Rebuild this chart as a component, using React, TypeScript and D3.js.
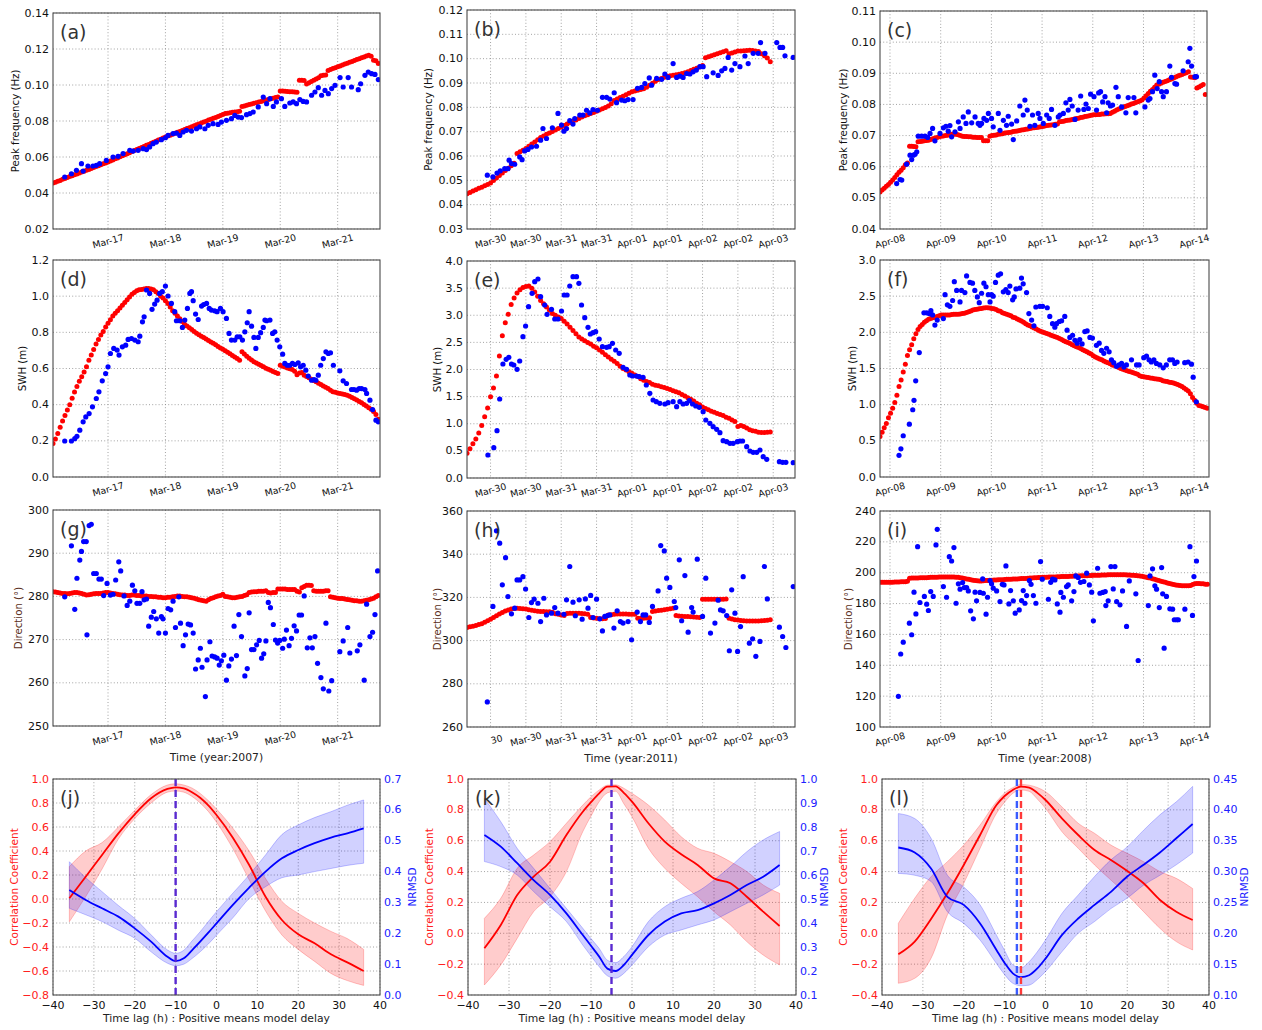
import React from "react";
import * as d3 from "d3";

const FONT = "'DejaVu Sans', Verdana, sans-serif";
const H = 3600000;

// ---------------- time axes ----------------
const col1Start = Date.UTC(2007, 2, 16, 1, 0);
const col2Start = Date.UTC(2011, 2, 29, 16, 0);
const col3Start = Date.UTC(2008, 3, 7, 19, 16);
const col1Ticks = ["2007-03-17", "2007-03-18", "2007-03-19", "2007-03-20", "2007-03-21"];
const col1TickLabels = ["Mar-17", "Mar-18", "Mar-19", "Mar-20", "Mar-21"];
const col2Ticks = ["2011-03-30T00:00Z", "2011-03-30T12:00Z", "2011-03-31T00:00Z", "2011-03-31T12:00Z", "2011-04-01T00:00Z", "2011-04-01T12:00Z", "2011-04-02T00:00Z", "2011-04-02T12:00Z", "2011-04-03T00:00Z"];
const col2TickLabels = ["Mar-30", "Mar-30", "Mar-31", "Mar-31", "Apr-01", "Apr-01", "Apr-02", "Apr-02", "Apr-03"];
const col2TickLabelsH = ["30", "Mar-30", "Mar-31", "Mar-31", "Apr-01", "Apr-01", "Apr-02", "Apr-02", "Apr-03"];
const col3Ticks = ["2008-04-08", "2008-04-09", "2008-04-10", "2008-04-11", "2008-04-12", "2008-04-13", "2008-04-14"];
const col3TickLabels = ["Apr-08", "Apr-09", "Apr-10", "Apr-11", "Apr-12", "Apr-13", "Apr-14"];

// ---------------- y ticks ----------------
const yTicksA = [0.02, 0.04, 0.06, 0.08, 0.1, 0.12, 0.14];
const yTicksB = [0.03, 0.04, 0.05, 0.06, 0.07, 0.08, 0.09, 0.1, 0.11, 0.12];
const yTicksC = [0.04, 0.05, 0.06, 0.07, 0.08, 0.09, 0.1, 0.11];
const yTicksD = [0, 0.2, 0.4, 0.6, 0.8, 1.0, 1.2];
const yTicksE = [0, 0.5, 1.0, 1.5, 2.0, 2.5, 3.0, 3.5, 4.0];
const yTicksF = [0, 0.5, 1.0, 1.5, 2.0, 2.5, 3.0];
const yTicksG = [250, 260, 270, 280, 290, 300];
const yTicksH = [260, 280, 300, 320, 340, 360];
const yTicksI = [100, 120, 140, 160, 180, 200, 220, 240];
const lagTicks = [-40, -30, -20, -10, 0, 10, 20, 30, 40];
const corrTicksJ = [-0.8, -0.6, -0.4, -0.2, 0, 0.2, 0.4, 0.6, 0.8, 1.0];
const corrTicksKL = [-0.4, -0.2, 0, 0.2, 0.4, 0.6, 0.8, 1.0];
const nrmsdTicksJ = [0, 0.1, 0.2, 0.3, 0.4, 0.5, 0.6, 0.7];
const nrmsdTicksK = [0.1, 0.2, 0.3, 0.4, 0.5, 0.6, 0.7, 0.8, 0.9, 1.0];
const nrmsdTicksL = [0.1, 0.15, 0.2, 0.25, 0.3, 0.35, 0.4, 0.45];

// ---------------- (a) peak frequency 2007: model hourly, obs [hour, value] ----------------
const modelA = [0.0455,0.0460,0.0465,0.0470,0.0476,0.0481,0.0486,0.0491,0.0496,0.0501,0.0506,0.0511,0.0516,0.0521,0.0526,0.0531,0.0536,0.0542,0.0547,0.0552,0.0557,0.0562,0.0567,0.0572,
0.0578,0.0584,0.0590,0.0595,0.0601,0.0607,0.0613,0.0618,0.0624,0.0630,0.0636,0.0642,0.0647,0.0653,0.0659,0.0665,0.0670,0.0676,0.0682,0.0688,0.0694,0.0699,0.0705,0.0711,
0.0716,0.0721,0.0727,0.0732,0.0737,0.0742,0.0747,0.0753,0.0758,0.0763,0.0768,0.0773,0.0779,0.0784,0.0789,0.0794,0.0799,0.0805,0.0810,0.0815,0.0820,0.0825,0.0831,0.0836,0.0841,
0.0843,0.0846,0.0848,0.0850,0.0852,0.0854,
0.0881,0.0884,0.0888,0.0891,0.0895,0.0898,0.0902,0.0905,0.0909,0.0912,0.0916,0.0919,0.0923,0.0926,0.0930,0.0933,
0.0967,0.0966,0.0965,0.0964,0.0963,0.0962,0.0961,0.0960,
0.1026,0.1027,0.1025,
0.1005,0.1012,0.1019,0.1026,0.1033,0.1040,
0.1052,0.1054,0.1055,
0.1081,0.1086,0.1091,0.1096,0.1101,0.1106,0.1111,0.1116,0.1121,0.1126,0.1131,0.1136,0.1141,0.1146,0.1151,0.1156,0.1161,0.1165,
0.1160,0.1137,0.1135,0.1120];
const obsA = [[4.9,0.0489],[7.7,0.0507],[9.8,0.0526],[11.9,0.0563],[12.6,0.0522],[14.6,0.0550],[16.7,0.0550],[18.1,0.0554],[19.5,0.0563],[22.3,0.0581],[25.1,0.0600],[27.2,0.0604],[29.3,0.0619],[32.1,0.0637],[33.5,0.0633],[35.6,0.0637],[37.7,0.0646],[39.1,0.0641],[40.4,0.0656],[41.8,0.0674],[43.2,0.0683],[45.3,0.0696],[47.0,0.0707],[48.1,0.0720],[50.2,0.0730],[51.6,0.0733],[53.0,0.0720],[54.4,0.0739],[55.8,0.0748],[57.9,0.0744],[60.0,0.0757],[61.4,0.0767],[63.5,0.0757],[64.9,0.0776],[66.9,0.0785],[69.0,0.0781],[70.4,0.0794],[72.5,0.0804],[74.6,0.0813],[76.0,0.0831],[77.4,0.0822],[78.8,0.0819],[80.9,0.0835],[82.3,0.0841],[83.7,0.0850],[85.8,0.0878],[87.9,0.0933],[89.3,0.0896],[90.7,0.0924],[92.1,0.0881],[93.4,0.0906],[95.5,0.0924],[96.9,0.0881],[99.0,0.0900],[100.4,0.0906],[101.8,0.0896],[103.2,0.0919],[104.6,0.0909],[106.0,0.0906],[108.1,0.0943],[109.5,0.0961],[110.9,0.0985],[112.3,0.0943],[113.7,0.0970],[115.1,0.0952],[116.5,0.0980],[117.9,0.0998],[120.0,0.1041],[121.3,0.0989],[123.4,0.1041],[124.8,0.0989],[127.6,0.0974],[128.6,0.1007],[130.4,0.1054],[131.8,0.1072],[133.2,0.1063],[134.6,0.1059],[136.0,0.1030]];

// ---------------- (b) peak frequency 2011 ----------------
const modelB = [0.0445,0.0450,0.0456,0.0461,0.0467,0.0472,0.0478,0.0483,0.0489,
0.0499,0.0510,0.0520,0.0530,0.0540,0.0550,0.0560,0.0570,
0.0610,0.0617,0.0624,0.0631,
0.0640,0.0649,0.0658,0.0667,0.0676,
0.0682,0.0689,0.0695,0.0701,
0.0707,0.0713,0.0719,0.0725,0.0731,0.0738,
0.0743,0.0748,0.0754,0.0760,0.0765,0.0770,0.0775,0.0779,0.0784,
0.0789,0.0794,0.0799,0.0805,0.0815,0.0828,
0.0834,0.0840,0.0846,0.0852,0.0858,0.0864,
0.0867,0.0870,0.0873,0.0876,
0.0883,0.0891,0.0899,0.0907,0.0914,0.0919,0.0924,0.0928,
0.0930,0.0932,0.0934,0.0936,0.0939,0.0942,0.0946,0.0951,0.0956,0.0961,0.0966,0.0972,
0.1004,0.1008,0.1012,0.1016,0.1020,0.1024,0.1028,0.1033,
0.1020,0.1023,0.1027,0.1031,
0.1032,0.1033,0.1034,0.1035,
0.1034,0.1032,0.1029,
0.1020,0.1012,0.1003,0.0987];
const obsB = [[6.9,0.0521],[8.8,0.0514],[10.2,0.0530],[11.3,0.0539],[12.8,0.0548],[13.9,0.0548],[14.3,0.0583],[15.1,0.0569],[16.2,0.0566],[17.9,0.0596],[18.7,0.0585],[19.6,0.0621],[20.7,0.0627],[21.9,0.0637],[23.6,0.0640],[25.0,0.0665],[25.8,0.0713],[27.0,0.0672],[29.0,0.0716],[30.9,0.0775],[32.1,0.0727],[32.9,0.0702],[33.8,0.0713],[34.9,0.0745],[36.0,0.0731],[36.6,0.0754],[38.3,0.0768],[39.4,0.0768],[40.6,0.0788],[41.7,0.0777],[42.8,0.0791],[44.3,0.0788],[46.0,0.0841],[47.4,0.0841],[48.5,0.0834],[50.0,0.0860],[50.8,0.0819],[52.5,0.0830],[53.6,0.0827],[54.7,0.0832],[56.4,0.0832],[57.9,0.0878],[59.3,0.0882],[60.4,0.0898],[61.9,0.0921],[62.7,0.0891],[64.4,0.0919],[66.1,0.0915],[67.2,0.0937],[68.3,0.0923],[70.0,0.0980],[71.2,0.0923],[72.3,0.0928],[73.4,0.0923],[74.6,0.0939],[75.7,0.0937],[76.8,0.0946],[77.9,0.0953],[79.1,0.0967],[80.2,0.0967],[81.4,0.0926],[83.6,0.0942],[85.3,0.0931],[86.5,0.0950],[87.6,0.0960],[88.7,0.1005],[89.9,0.0953],[91.0,0.0980],[92.7,0.0967],[94.4,0.1011],[95.5,0.0980],[97.2,0.1022],[98.9,0.1022],[99.7,0.1066],[101.2,0.1022],[105.2,0.1066],[106.3,0.1046],[107.2,0.1046],[108.0,0.1012],[110.8,0.1005]];

// ---------------- (c) peak frequency 2008 ----------------
const modelC = [0.0519,0.0525,0.0531,0.0537,0.0543,
0.0550,0.0557,0.0565,0.0574,0.0582,0.0589,0.0597,0.0606,0.0612,
0.0666,0.0666,0.0665,0.0664,
0.0680,0.0681,0.0682,0.0683,0.0684,0.0685,
0.0687,0.0690,0.0692,0.0694,0.0696,
0.0698,0.0699,0.0700,0.0701,0.0703,0.0704,
0.0704,0.0704,0.0703,0.0700,0.0698,
0.0697,0.0697,0.0696,0.0696,0.0695,0.0695,0.0694,0.0694,0.0694,
0.0683,0.0683,0.0683,
0.0698,0.0700,0.0701,0.0702,0.0704,0.0705,0.0706,0.0708,0.0709,
0.0710,0.0711,0.0713,0.0714,0.0715,0.0716,0.0718,0.0719,0.0720,0.0721,0.0723,
0.0724,0.0725,0.0726,0.0727,0.0728,0.0729,0.0731,0.0732,0.0733,0.0734,0.0735,0.0736,0.0737,
0.0744,0.0745,0.0746,0.0748,0.0749,0.0750,0.0752,0.0753,0.0755,
0.0756,0.0758,0.0759,0.0761,0.0762,0.0764,0.0765,0.0767,
0.0767,0.0768,0.0768,0.0769,0.0769,0.0770,0.0770,0.0771,
0.0775,0.0778,0.0782,0.0785,0.0788,
0.0791,0.0793,0.0796,0.0798,0.0801,0.0803,0.0806,0.0809,0.0811,0.0814,
0.0821,0.0828,0.0835,0.0842,0.0848,0.0855,0.0862,
0.0865,0.0868,0.0871,0.0874,0.0876,0.0879,0.0882,0.0885,0.0888,0.0891,0.0894,0.0896,0.0899,0.0902,0.0905,
0.0888,0.0887,0.0886,
0.0853,0.0856,0.0860,0.0864,0.0832];
const obsC = [[7.9,0.0546],[9.5,0.0559],[10.3,0.0557],[12.6,0.0608],[14.2,0.0637],[15.0,0.0623],[15.8,0.0637],[16.6,0.0640],[17.4,0.0648],[18.1,0.0698],[19.7,0.0698],[21.3,0.0698],[22.6,0.0694],[23.7,0.0707],[24.9,0.0723],[26.0,0.0683],[28.4,0.0707],[30.0,0.0725],[31.2,0.0730],[32.3,0.0714],[33.1,0.0732],[33.9,0.0696],[35.5,0.0712],[37.1,0.0744],[37.9,0.0723],[39.4,0.0760],[40.7,0.0739],[41.8,0.0776],[43.4,0.0741],[45.0,0.0760],[46.5,0.0739],[47.3,0.0733],[48.1,0.0739],[49.2,0.0755],[50.5,0.0749],[51.3,0.0771],[52.8,0.0755],[53.6,0.0728],[56.0,0.0771],[56.8,0.0717],[58.4,0.0749],[59.9,0.0733],[60.7,0.0762],[62.3,0.0737],[63.1,0.0687],[64.7,0.0747],[66.2,0.0795],[67.8,0.0766],[68.6,0.0814],[69.7,0.0782],[71.0,0.0730],[72.2,0.0766],[73.3,0.0733],[74.9,0.0771],[75.7,0.0755],[77.3,0.0739],[78.9,0.0766],[80.1,0.0755],[81.2,0.0784],[82.8,0.0733],[84.4,0.0760],[85.2,0.0766],[86.8,0.0771],[88.0,0.0805],[89.1,0.0782],[89.9,0.0816],[91.0,0.0795],[92.3,0.0752],[93.8,0.0782],[95.0,0.0827],[96.5,0.0784],[97.5,0.0801],[98.6,0.0787],[99.7,0.0833],[101.3,0.0825],[102.5,0.0782],[103.5,0.0837],[104.4,0.0841],[105.4,0.0808],[106.5,0.0825],[107.3,0.0773],[108.0,0.0805],[109.1,0.0795],[110.1,0.0798],[111.7,0.0855],[112.8,0.0825],[114.4,0.0792],[116.4,0.0773],[117.5,0.0822],[120.2,0.0822],[121.1,0.0773],[125.4,0.0792],[127.0,0.0814],[127.8,0.0819],[129.0,0.0841],[130.1,0.0894],[131.2,0.0851],[132.2,0.0873],[133.3,0.0841],[134.1,0.0825],[135.6,0.0841],[137.2,0.0923],[138.0,0.0887],[139.6,0.0867],[140.4,0.0865],[143.5,0.0908],[145.9,0.0937],[146.7,0.0980],[147.5,0.0923],[149.1,0.0889],[149.8,0.0889]];

// ---------------- (d) SWH 2007 ----------------
const modelD = [0.185,0.21,0.24,0.275,0.31,0.34,0.37,0.40,0.435,0.47,0.50,
0.53,0.555,0.58,0.61,0.645,0.675,0.705,0.735,0.76,0.785,
0.805,0.83,0.85,0.87,0.89,0.905,0.92,0.935,0.95,0.965,
0.98,0.995,1.01,1.02,1.03,1.035,1.037,1.04,1.042,1.043,
1.04,1.035,1.025,1.015,1.00,0.99,0.975,0.96,0.94,0.92,
0.905,0.89,0.875,0.86,0.845,0.835,0.825,0.815,0.805,0.795,
0.787,0.779,0.771,0.763,0.755,0.747,0.739,0.731,0.722,0.714,
0.706,0.698,0.690,0.681,0.672,0.663,0.655,0.646,
0.692,0.680,0.668,0.657,0.647,0.637,
0.630,0.623,0.616,0.609,0.602,0.596,0.590,0.584,0.578,0.572,
0.618,0.613,0.608,0.603,0.598,0.594,
0.585,0.565,0.575,0.578,0.563,0.556,0.549,0.541,0.534,0.527,
0.519,0.511,0.503,0.496,0.489,0.480,0.471,
0.468,0.465,0.462,0.459,0.456,0.452,0.446,0.440,0.433,0.426,0.418,
0.410,0.401,0.392,0.383,0.374,0.362,0.345,0.320];
const obsD = [[4.9,0.199],[7.7,0.199],[9.1,0.212],[10.0,0.225],[11.2,0.259],[12.6,0.305],[13.7,0.332],[15.1,0.351],[16.5,0.388],[18.1,0.434],[19.2,0.471],[20.6,0.532],[22.0,0.572],[23.0,0.609],[24.0,0.683],[25.4,0.711],[26.8,0.702],[27.6,0.674],[29.0,0.720],[30.4,0.729],[31.4,0.761],[32.8,0.766],[34.2,0.757],[35.6,0.748],[36.3,0.779],[37.4,0.858],[38.1,0.886],[39.1,1.034],[40.4,1.015],[41.4,0.927],[42.5,0.956],[43.5,0.978],[44.6,1.015],[45.7,1.025],[47.0,1.056],[48.1,1.001],[49.5,0.960],[50.9,0.914],[51.6,0.864],[53.0,0.864],[54.1,0.827],[55.1,0.868],[56.2,0.932],[57.2,1.015],[57.9,1.025],[58.6,0.975],[59.6,0.901],[60.7,0.871],[62.1,0.945],[63.0,0.954],[64.2,0.960],[65.3,0.932],[66.2,0.923],[67.6,0.919],[68.6,0.914],[70.0,0.932],[71.1,0.914],[72.5,0.877],[73.6,0.794],[74.6,0.757],[76.0,0.757],[77.0,0.775],[78.1,0.775],[79.2,0.757],[80.2,0.803],[81.2,0.853],[82.0,0.914],[83.0,0.834],[84.0,0.772],[84.8,0.711],[85.8,0.772],[86.8,0.798],[87.9,0.827],[88.6,0.868],[89.3,0.864],[90.7,0.868],[91.8,0.794],[92.7,0.803],[93.7,0.757],[94.8,0.720],[96.0,0.679],[96.9,0.628],[97.9,0.618],[99.0,0.618],[100.1,0.628],[101.1,0.622],[102.5,0.631],[103.5,0.609],[104.6,0.618],[105.7,0.591],[106.7,0.558],[108.1,0.535],[109.1,0.539],[109.9,0.535],[110.9,0.563],[111.9,0.618],[113.0,0.655],[114.1,0.692],[115.1,0.683],[116.0,0.687],[117.2,0.618],[119.9,0.587],[121.3,0.532],[122.7,0.517],[124.8,0.484],[125.8,0.484],[126.9,0.480],[128.0,0.489],[129.0,0.489],[130.4,0.484],[131.1,0.462],[132.5,0.425],[133.6,0.373],[135.0,0.314],[136.0,0.305]];

// ---------------- (e) SWH 2011 ----------------
const modelE = [0.455,0.54,0.63,0.72,0.83,0.97,1.13,1.29,1.50,1.66,1.88,2.25,2.62,2.86,3.02,3.20,3.32,3.41,3.47,3.51,
3.53,3.54,3.50,3.43,3.35,3.27,3.21,3.15,3.09,3.03,3.00,2.97,2.94,2.89,2.84,2.78,2.72,2.66,2.60,2.56,
2.53,2.50,2.47,2.43,2.40,2.36,2.32,2.27,2.23,2.19,2.15,2.11,2.06,2.02,1.99,1.96,1.93,1.90,1.87,1.83,
1.80,1.78,1.76,1.73,1.71,1.70,1.68,1.67,1.65,1.63,1.61,1.59,1.57,1.54,1.51,1.48,1.45,1.42,1.38,1.35,
1.31,1.28,1.26,1.23,1.21,1.19,1.17,1.15,1.12,1.10,1.07,1.04,0.95,0.97,0.95,0.92,0.89,0.87,0.86,0.845,
0.84,0.84,0.845,0.85];
const obsE = [[7.1,0.424],[9.1,0.559],[10.2,0.873],[11.1,1.456],[12.2,2.101],[13.3,2.187],[14.2,2.224],[15.1,2.101],[15.9,2.083],[17.0,2.003],[17.9,2.157],[19.0,2.605],[19.9,2.802],[20.9,3.158],[22.1,3.404],[23.0,3.619],[24.1,3.668],[25.0,3.343],[26.4,3.189],[27.2,3.017],[28.7,3.109],[29.8,2.931],[30.9,2.931],[32.1,3.078],[33.0,3.373],[34.0,3.373],[34.9,3.539],[36.0,3.711],[37.2,3.711],[38.0,3.588],[38.9,3.189],[40.0,2.955],[41.1,2.777],[41.9,2.654],[42.8,2.679],[43.7,2.697],[44.9,2.562],[46.0,2.421],[47.4,2.409],[48.3,2.421],[49.4,2.482],[50.5,2.359],[51.7,2.298],[53.0,2.040],[54.2,2.003],[55.3,1.899],[56.2,1.880],[57.6,1.880],[58.5,1.868],[59.8,1.856],[60.9,1.714],[62.1,1.561],[63.2,1.438],[64.3,1.407],[65.5,1.376],[67.2,1.364],[68.3,1.389],[70.0,1.407],[71.2,1.315],[72.3,1.407],[73.4,1.364],[74.6,1.376],[75.5,1.426],[76.6,1.364],[77.7,1.327],[78.9,1.303],[80.2,1.223],[81.1,1.069],[82.5,1.008],[83.6,0.946],[84.8,0.897],[85.9,0.836],[87.0,0.688],[88.2,0.670],[89.3,0.639],[90.4,0.639],[91.8,0.670],[92.7,0.682],[93.6,0.682],[95.0,0.578],[96.1,0.498],[97.2,0.473],[98.4,0.473],[99.5,0.516],[100.6,0.393],[101.8,0.344],[106.1,0.301],[107.2,0.289],[108.3,0.289],[110.8,0.283]];

// ---------------- (f) SWH 2008 ----------------
const modelF = [0.56,0.62,0.68,0.74,0.82,0.88,0.95,1.03,1.13,1.25,1.34,1.45,1.56,1.68,1.76,1.83,1.91,1.98,2.04,2.08,
2.11,2.14,2.16,2.18,2.19,2.20,2.21,2.22,2.23,2.24,2.24,2.24,2.24,2.24,2.245,2.25,2.25,2.25,2.255,2.26,
2.265,2.275,2.285,2.295,2.31,2.315,2.32,2.325,2.33,2.335,2.34,2.34,2.335,2.33,2.325,2.315,2.30,2.29,2.27,2.26,
2.25,2.24,2.23,2.21,2.20,2.185,2.17,2.155,2.14,2.12,2.10,2.09,2.075,2.06,2.045,2.03,2.015,2.005,1.995,1.985,
1.975,1.96,1.95,1.94,1.93,1.915,1.90,1.885,1.87,1.86,1.845,1.83,1.815,1.80,1.79,1.775,1.76,1.745,1.73,1.715,
1.70,1.675,1.66,1.645,1.63,1.62,1.605,1.59,1.58,1.565,1.55,1.54,1.53,1.515,1.50,1.49,1.48,1.47,1.46,1.45,
1.44,1.43,1.42,1.40,1.39,1.385,1.38,1.375,1.37,1.365,1.36,1.355,1.35,1.345,1.33,1.325,1.32,1.31,1.305,1.30,
1.29,1.28,1.265,1.25,1.23,1.21,1.19,1.15,1.10,1.06,1.02,0.99,0.98,0.97,0.96,0.95];
const obsF = [[9.0,0.30],[9.9,0.39],[11.0,0.57],[13.9,0.73],[15.5,0.93],[16.1,1.06],[16.9,1.33],[18.6,1.72],[20.8,2.27],[22.1,2.27],[23.3,2.26],[24.1,2.30],[24.9,2.24],[26.0,2.10],[27.1,2.17],[30.0,2.19],[30.8,2.52],[31.9,2.38],[33.1,2.36],[34.4,2.44],[35.2,2.70],[36.3,2.58],[37.9,2.42],[38.6,2.58],[40.2,2.55],[41.0,2.78],[42.6,2.69],[43.8,2.68],[44.9,2.58],[46.1,2.49],[47.0,2.41],[48.1,2.54],[49.2,2.68],[50.2,2.63],[51.3,2.52],[52.1,2.42],[52.8,2.52],[53.6,2.50],[54.7,2.69],[56.0,2.79],[57.1,2.81],[58.4,2.56],[59.6,2.59],[60.7,2.55],[61.5,2.64],[62.8,2.45],[63.6,2.49],[64.4,2.60],[66.2,2.61],[67.0,2.75],[67.8,2.67],[69.4,2.55],[70.5,2.26],[71.8,2.17],[72.9,2.09],[73.8,2.35],[75.7,2.36],[77.0,2.36],[79.2,2.34],[80.4,2.22],[81.7,2.12],[82.8,2.07],[83.6,2.12],[84.9,2.15],[86.0,2.16],[87.5,2.22],[88.6,2.03],[89.9,1.93],[91.2,1.96],[92.3,1.89],[93.4,1.85],[94.6,1.90],[95.7,1.84],[97.0,2.01],[98.1,2.02],[99.4,1.93],[100.6,1.92],[102.5,1.82],[103.8,1.85],[104.9,1.75],[106.0,1.71],[107.3,1.78],[108.5,1.73],[109.6,1.62],[110.7,1.58],[112.0,1.53],[113.2,1.55],[114.4,1.57],[115.5,1.52],[116.7,1.55],[119.1,1.62],[121.5,1.55],[122.7,1.55],[124.9,1.65],[126.2,1.67],[127.4,1.62],[128.5,1.59],[129.7,1.62],[130.9,1.57],[132.5,1.55],[134.1,1.51],[135.6,1.55],[137.2,1.62],[138.5,1.62],[139.6,1.57],[140.7,1.59],[144.3,1.58],[145.9,1.59],[147.5,1.56],[148.3,1.38],[149.8,1.04]];

// ---------------- (g) direction 2007 ----------------
const modelG = [281.1,281.0,280.9,280.8,280.7,280.7,280.6,280.7,280.8,280.9,280.9,280.8,
280.7,280.5,280.3,280.4,280.5,280.6,280.7,280.7,280.7,280.8,280.9,280.9,
280.8,280.7,280.6,280.5,280.4,280.3,280.3,280.2,280.2,280.3,280.3,280.2,
280.2,280.1,280.1,280.1,280.0,280.0,279.9,279.9,279.8,279.8,279.7,279.7,
279.8,279.8,279.9,280.0,280.1,280.1,280.0,279.9,279.9,279.8,279.7,279.6,
279.4,279.2,279.1,279.0,278.9,279.2,279.5,279.7,279.9,280.1,280.2,280.5,
280.0,279.9,279.8,279.7,279.7,279.8,279.9,280.0,280.2,280.4,280.9,281.0,
281.1,281.1,281.2,281.2,281.2,281.3,280.9,280.8,280.9,280.9,281.7,281.7,
281.7,281.7,281.6,281.6,281.6,281.6,281.2,281.0,282.0,282.3,282.6,282.6,
282.5,281.3,281.2,281.2,281.2,281.2,281.3,281.3,279.9,279.8,279.7,279.6,
279.5,279.5,279.4,279.3,279.2,279.1,279.0,279.0,278.9,278.9,279.0,279.1,
279.2,279.4,279.6,279.9,280.2];
const obsG = [[4.9,279.9],[7.7,291.7],[9.1,277.0],[10.0,284.2],[11.2,288.4],[11.9,290.4],[12.8,292.7],[13.9,292.7],[14.2,271.1],[15.1,296.4],[16.0,296.7],[17.0,285.3],[18.1,285.3],[19.2,284.0],[20.2,284.0],[21.2,280.2],[22.6,283.0],[24.0,280.3],[25.1,280.5],[26.2,283.8],[27.5,288.0],[28.3,285.9],[29.7,280.1],[31.0,277.9],[32.1,278.9],[33.2,282.6],[34.2,281.3],[35.1,278.4],[36.3,278.4],[37.2,281.1],[38.1,279.2],[39.1,279.4],[40.0,273.1],[41.1,275.2],[42.1,276.5],[43.2,274.8],[44.2,271.5],[45.3,275.3],[46.0,274.8],[47.0,271.5],[48.1,277.2],[49.2,276.9],[50.2,278.9],[51.2,272.8],[52.6,279.9],[53.3,273.8],[54.4,268.6],[55.4,271.1],[56.5,273.6],[57.5,273.4],[58.6,271.5],[59.6,263.2],[60.7,265.3],[61.6,268.0],[62.3,263.6],[63.7,256.8],[64.4,265.3],[65.6,269.5],[66.5,266.2],[67.6,266.0],[68.6,265.7],[69.5,264.1],[70.4,265.1],[71.4,266.4],[72.5,260.6],[73.5,263.9],[74.6,265.5],[75.7,273.1],[76.7,266.3],[77.7,275.8],[78.8,270.7],[80.2,261.6],[81.2,263.3],[82.0,276.2],[83.0,267.7],[84.0,267.7],[85.1,268.8],[86.2,269.8],[87.2,265.7],[88.1,266.7],[89.0,269.7],[90.0,278.6],[90.9,277.4],[92.1,273.5],[93.0,269.9],[93.9,269.2],[94.8,269.8],[96.0,268.0],[96.7,270.1],[97.6,272.2],[98.7,268.6],[99.7,270.3],[100.8,273.2],[101.8,272.0],[102.9,275.7],[103.9,275.7],[105.0,280.1],[106.3,268.1],[107.4,270.4],[108.4,268.1],[109.5,270.7],[110.6,264.5],[112.0,261.2],[113.0,258.6],[114.1,273.8],[115.3,258.1],[116.5,260.5],[119.9,267.2],[121.3,269.7],[123.2,272.8],[124.1,266.9],[127.2,267.4],[128.3,268.8],[130.1,260.6],[131.1,278.2],[132.5,270.7],[133.6,271.7],[134.6,275.8],[135.7,285.9]];

// ---------------- (h) direction 2011 ----------------
const modelH = [306.1,306.4,306.7,307.0,307.4,307.8,308.5,309.2,309.9,310.7,311.5,312.3,
313.0,313.7,314.2,314.6,314.9,315.0,314.9,314.8,314.6,314.3,314.0,313.8,
313.6,313.5,313.5,313.4,313.3,313.1,312.4,312.2,311.8,311.6,312.6,312.7,
312.7,312.7,312.7,312.6,312.4,312.2,310.7,310.5,310.3,310.1,310.1,310.2,
311.9,312.0,312.2,312.3,312.3,312.3,312.3,312.2,312.2,312.2,
310.4,310.4,310.4,310.5,310.6,
313.5,313.7,313.9,314.1,314.3,314.5,314.8,315.0,
311.6,311.4,311.3,311.2,311.1,311.0,310.9,310.8,310.7,
319.2,319.2,319.2,319.2,319.2,319.2,319.2,319.2,319.3,
310.4,310.0,309.7,309.5,309.3,309.2,309.1,309.1,
309.1,309.1,309.1,309.2,309.3,309.4,309.6];
const obsH = [[6.9,271.6],[8.8,315.8],[10.0,350.8],[11.1,345.1],[12.0,325.8],[13.1,338.4],[13.9,320.4],[15.1,312.4],[16.2,315.0],[17.0,328.1],[17.9,328.1],[19.0,329.6],[19.9,323.9],[21.0,310.7],[21.9,317.6],[22.8,319.2],[24.1,317.3],[25.0,308.8],[26.1,319.6],[27.0,311.9],[28.7,312.7],[29.8,315.3],[30.9,312.7],[32.9,312.2],[33.8,318.9],[34.9,334.3],[36.0,317.8],[36.8,311.5],[38.1,318.9],[39.1,309.9],[40.2,319.3],[41.1,315.0],[42.0,320.9],[42.8,310.7],[44.0,319.2],[45.1,310.1],[46.0,304.5],[46.8,311.2],[47.7,311.6],[48.5,311.9],[49.9,305.8],[51.0,313.8],[52.1,308.8],[53.0,308.1],[54.7,308.8],[55.9,300.4],[57.8,313.2],[58.9,308.8],[59.8,311.9],[60.7,311.9],[61.9,308.4],[63.0,315.8],[64.9,323.0],[65.8,344.0],[67.0,341.5],[67.8,328.9],[68.9,324.6],[70.4,318.1],[70.9,315.3],[72.1,337.4],[72.9,309.2],[74.0,330.1],[75.1,303.9],[76.3,315.3],[76.8,313.2],[78.2,337.7],[80.0,311.2],[81.1,328.9],[82.7,303.5],[84.2,308.1],[85.3,318.7],[86.1,314.2],[87.0,313.8],[88.2,311.6],[89.1,295.3],[89.9,323.5],[91.0,312.7],[91.9,295.0],[92.9,306.5],[93.8,329.6],[95.9,298.8],[97.0,300.8],[98.1,292.7],[99.5,299.6],[101.0,334.3],[102.0,319.3],[106.1,306.2],[107.2,301.9],[108.3,296.8],[110.8,325.0]];

// ---------------- (i) direction 2008 ----------------
const modelI = [193.8,193.8,193.8,193.8,193.9,193.9,193.9,194.0,194.0,194.0,194.1,194.1,194.2,194.4,
196.4,196.5,196.5,196.6,196.6,196.7,196.7,196.8,196.8,
196.9,197.0,197.0,197.1,197.1,197.2,197.2,197.3,197.3,197.3,197.3,197.2,197.2,197.1,197.0,
196.8,196.6,196.3,196.0,195.7,195.4,195.1,194.9,194.8,194.7,194.7,194.8,194.9,
195.0,195.1,195.1,195.2,195.3,195.4,195.5,195.5,195.6,195.7,195.7,195.8,
195.9,195.9,196.0,196.1,196.2,196.3,196.3,196.4,196.5,196.6,196.7,196.8,196.9,196.9,197.0,197.1,
197.1,197.2,197.2,197.3,197.3,197.4,197.4,197.5,197.5,197.6,197.6,197.7,197.7,197.8,197.8,197.9,
198.0,198.0,198.1,198.1,198.2,198.2,198.3,198.3,198.4,198.4,198.5,198.5,198.5,198.6,198.6,198.6,198.6,198.6,198.6,198.6,198.6,198.6,198.5,198.5,
198.4,198.3,198.2,198.1,197.9,197.7,197.4,197.1,196.8,196.5,
196.1,195.7,195.3,194.9,194.5,194.2,193.8,193.4,193.0,192.7,192.4,192.1,
191.9,191.7,191.6,191.5,191.5,191.5,191.7,
192.4,192.8,193.0,193.0,192.9,192.8,192.6,192.5];
const obsI = [[8.7,119.9],[9.8,147.3],[11.0,155.0],[13.9,167.3],[15.0,159.8],[16.1,187.4],[17.0,173.3],[17.8,216.9],[18.9,180.7],[21.0,184.6],[22.1,179.6],[22.9,175.5],[24.0,187.8],[25.2,184.6],[26.5,218.0],[27.1,228.1],[30.0,191.0],[31.5,184.1],[32.8,210.4],[33.9,207.6],[35.0,216.3],[36.0,180.2],[37.1,192.8],[37.9,189.3],[39.1,193.6],[39.9,190.4],[41.0,190.4],[41.8,188.2],[42.9,175.3],[44.2,170.1],[45.0,187.4],[45.7,181.8],[47.3,187.2],[48.6,196.0],[48.9,186.7],[50.2,173.1],[50.9,184.1],[52.1,194.9],[52.8,192.8],[53.6,190.0],[55.2,188.2],[56.8,181.3],[57.9,192.5],[58.7,192.1],[59.6,204.4],[61.0,179.8],[61.8,188.4],[63.1,181.8],[64.0,173.8],[65.9,175.9],[67.0,182.0],[67.8,188.4],[68.6,180.2],[69.4,185.2],[70.7,194.9],[71.5,192.5],[72.6,185.2],[73.8,180.2],[76.0,207.2],[76.8,195.8],[79.7,182.8],[80.8,193.8],[81.7,195.8],[82.8,195.3],[83.9,179.8],[85.2,174.4],[85.6,187.2],[86.8,184.1],[88.3,191.0],[89.1,192.1],[90.7,181.8],[91.8,187.8],[92.7,197.9],[93.8,196.9],[94.9,193.8],[96.5,194.3],[97.8,199.7],[99.1,192.1],[100.2,187.4],[101.0,168.8],[103.0,202.9],[104.1,186.7],[105.4,187.2],[106.6,187.8],[106.9,178.7],[108.0,181.8],[109.3,204.0],[110.4,189.5],[111.2,204.0],[112.0,181.3],[113.6,179.2],[114.8,188.2],[116.7,165.2],[118.0,194.7],[121.1,186.3],[122.2,143.1],[127.0,178.7],[127.8,197.9],[129.0,202.5],[130.1,191.5],[130.9,189.3],[132.2,177.4],[133.3,203.3],[133.8,186.3],[134.5,151.1],[135.6,184.6],[137.2,176.6],[138.5,176.4],[139.3,169.5],[140.4,169.5],[141.2,169.5],[144.3,176.4],[146.7,216.9],[147.9,172.3],[148.6,197.5],[149.8,207.6]];

// ---------------- (j)(k)(l) lag analysis ----------------
const lags = [-36, -32, -28, -24, -20, -16, -12, -10, -8, -6, -4, -2, 0, 4, 8, 12, 16, 20, 24, 28, 32, 36];
const corrJ = [0.006,0.186,0.367,0.547,0.706,0.839,0.917,0.931,0.922,0.89,0.844,0.78,0.70,0.511,0.283,0.019,-0.175,-0.294,-0.369,-0.461,-0.528,-0.60];
const corrJHi = [0.27,0.40,0.47,0.60,0.74,0.87,0.95,0.96,0.95,0.925,0.88,0.82,0.75,0.59,0.40,0.17,-0.02,-0.12,-0.20,-0.27,-0.33,-0.42];
const corrJLo = [-0.19,0.02,0.25,0.50,0.67,0.80,0.89,0.90,0.89,0.855,0.80,0.73,0.64,0.42,0.16,-0.10,-0.30,-0.42,-0.52,-0.62,-0.68,-0.72];
const nrmsdJ = [0.34,0.308,0.281,0.254,0.216,0.173,0.124,0.110,0.119,0.145,0.173,0.202,0.232,0.292,0.348,0.40,0.443,0.47,0.492,0.51,0.524,0.54];
const nrmsdJHi = [0.432,0.38,0.335,0.29,0.248,0.195,0.146,0.135,0.145,0.175,0.205,0.238,0.27,0.33,0.389,0.454,0.52,0.551,0.575,0.594,0.615,0.632];
const nrmsdJLo = [0.281,0.26,0.238,0.21,0.184,0.14,0.103,0.095,0.10,0.118,0.14,0.165,0.194,0.25,0.313,0.351,0.38,0.389,0.40,0.41,0.42,0.427];
const corrK = [-0.097,0.054,0.248,0.367,0.464,0.637,0.788,0.85,0.907,0.95,0.952,0.91,0.853,0.713,0.594,0.512,0.443,0.356,0.324,0.237,0.14,0.047];
const corrKHi = [0.097,0.227,0.421,0.507,0.594,0.713,0.831,0.885,0.929,0.96,0.962,0.94,0.907,0.831,0.734,0.626,0.551,0.518,0.464,0.40,0.313,0.259];
const corrKLo = [-0.335,-0.205,-0.033,0.14,0.237,0.40,0.659,0.76,0.853,0.91,0.92,0.84,0.756,0.551,0.421,0.324,0.237,0.14,0.054,-0.054,-0.141,-0.205];
const nrmsdK = [0.767,0.718,0.649,0.579,0.517,0.44,0.35,0.305,0.26,0.21,0.20,0.225,0.267,0.35,0.406,0.44,0.454,0.482,0.517,0.558,0.593,0.642];
const nrmsdKHi = [0.919,0.822,0.711,0.628,0.544,0.461,0.378,0.335,0.294,0.245,0.235,0.26,0.301,0.406,0.468,0.503,0.531,0.579,0.635,0.697,0.746,0.781];
const nrmsdKLo = [0.656,0.635,0.60,0.531,0.468,0.406,0.308,0.262,0.218,0.18,0.17,0.19,0.225,0.301,0.35,0.371,0.392,0.413,0.447,0.482,0.517,0.558];
const corrL = [-0.136,-0.054,0.093,0.259,0.443,0.637,0.831,0.89,0.929,0.95,0.944,0.91,0.864,0.745,0.637,0.54,0.475,0.404,0.324,0.216,0.14,0.086];
const corrLHi = [0.065,0.227,0.367,0.464,0.572,0.702,0.853,0.91,0.944,0.965,0.96,0.945,0.918,0.82,0.713,0.648,0.572,0.518,0.464,0.40,0.356,0.29];
const corrLLo = [-0.324,-0.292,-0.162,0.119,0.324,0.551,0.777,0.85,0.907,0.929,0.92,0.87,0.81,0.659,0.551,0.443,0.345,0.248,0.14,0.032,-0.054,-0.108];
const nrmsdL = [0.339,0.331,0.305,0.259,0.246,0.216,0.173,0.152,0.135,0.129,0.132,0.143,0.159,0.197,0.224,0.246,0.267,0.292,0.311,0.331,0.354,0.377];
const nrmsdLHi = [0.394,0.386,0.354,0.294,0.275,0.246,0.197,0.172,0.149,0.144,0.154,0.17,0.189,0.232,0.262,0.292,0.319,0.34,0.367,0.392,0.413,0.438];
const nrmsdLLo = [0.297,0.294,0.284,0.235,0.216,0.189,0.151,0.133,0.119,0.115,0.116,0.125,0.138,0.17,0.20,0.219,0.24,0.257,0.278,0.294,0.311,0.33];
const peakLagCorr = [-10, -5, -6];
const peakLagNrmsd = [-10, -5, -7];

// ---------------- components ----------------
const GRID = { stroke: "#8c8c8c", strokeWidth: 0.8, strokeDasharray: "1,2.2" };
const FRAME = "#4a4a4a";

function Scatter(p: any) {
  const [l, t, r, b] = p.box;
  const x = d3.scaleUtc().domain([new Date(p.start), new Date(p.start + p.hMax * H)]).range([l, r]);
  const y = d3.scaleLinear().domain(p.yDomain).range([b, t]);
  const fmt = d3.format(`.${p.yDigits}f`);
  const tickDates = p.ticks.map((s: string) => new Date(s));
  return (
    <g fontFamily={FONT}>
      <defs>
        <clipPath id={p.id}><rect x={l} y={t} width={r - l} height={b - t} /></clipPath>
      </defs>
      {p.yTicks.map((v: number) => (
        <line key={"gy" + v} x1={l} x2={r} y1={y(v)} y2={y(v)} {...GRID} />
      ))}
      {tickDates.map((d: Date, i: number) => (
        <line key={"gx" + i} x1={x(d)} x2={x(d)} y1={t} y2={b} {...GRID} />
      ))}
      <g clipPath={`url(#${p.id})`}>
        {p.model.map((v: number | null, i: number) =>
          v == null ? null : (
            <circle key={"m" + i} cx={x(new Date(p.start + i * H))} cy={y(v)} r={2.5} fill="#ff0000" />
          )
        )}
        {p.obs.map((o: number[], i: number) => (
          <circle key={"o" + i} cx={x(new Date(p.start + o[0] * H))} cy={y(o[1])} r={2.6} fill="#0000ff" />
        ))}
      </g>
      <rect x={l} y={t} width={r - l} height={b - t} fill="none" stroke={FRAME} strokeWidth={1.1} />
      {p.yTicks.map((v: number) => (
        <text key={"ty" + v} x={l - 4} y={y(v)} fontSize={11} textAnchor="end" dominantBaseline="central" fill="#111">
          {fmt(v)}
        </text>
      ))}
      {tickDates.map((d: Date, i: number) => {
        const first = i === 0 && p.firstTickStart;
        return (
          <text
            key={"tx" + i}
            transform={`translate(${x(d) + (first ? 6 : 0)},${b + 12}) rotate(-15)`}
            fontSize={9.3}
            textAnchor="middle"
            dominantBaseline="central"
            fill="#111"
          >
            {p.tickLabels[i]}
          </text>
        );
      })}
      <text x={l + 7} y={t + 26} fontSize={19} fill="#333">{p.label}</text>
      <text
        transform={`translate(${l - p.ylabelDx},${(t + b) / 2}) rotate(-90)`}
        fontSize={10.2}
        textAnchor="middle"
        dominantBaseline="central"
        fill={p.ylabelColor || "#111"}
      >
        {p.ylabel}
      </text>
      {p.xlabel ? (
        <text x={(l + r) / 2} y={b + 35} fontSize={10.8} textAnchor="middle" fill="#222">{p.xlabel}</text>
      ) : null}
    </g>
  );
}

function LagPanel(p: any) {
  const [l, t, r, b] = p.box;
  const x = d3.scaleLinear().domain([-40, 40]).range([l, r]);
  const yL = d3.scaleLinear().domain(p.leftDomain).range([b, t]);
  const yR = d3.scaleLinear().domain(p.rightDomain).range([b, t]);
  const curve = d3.curveMonotoneX;
  const band = (lo: number[], hi: number[], ys: any) =>
    d3.area<number>().x((d) => x(d)).y0((_d, i) => ys(lo[i])).y1((_d, i) => ys(hi[i])).curve(curve)(lags) as string;
  const line = (v: number[], ys: any) =>
    d3.line<number>().x((d) => x(d)).y((_d, i) => ys(v[i])).curve(curve)(lags) as string;
  const fL = d3.format(".1f");
  const fR = d3.format(`.${p.rightDigits}f`);
  const fX = d3.format("d");
  const same = p.peakCorr === p.peakNrmsd;
  return (
    <g fontFamily={FONT}>
      <defs>
        <clipPath id={p.id}><rect x={l} y={t} width={r - l} height={b - t} /></clipPath>
      </defs>
      {p.leftTicks.map((v: number) => (
        <line key={"gy" + v} x1={l} x2={r} y1={yL(v)} y2={yL(v)} {...GRID} />
      ))}
      {lagTicks.map((v) => (
        <line key={"gx" + v} x1={x(v)} x2={x(v)} y1={t} y2={b} {...GRID} />
      ))}
      <g clipPath={`url(#${p.id})`}>
        <path d={band(p.corrLo, p.corrHi, yL)} fill="#ff0000" fillOpacity={0.2} stroke="#ff0000" strokeOpacity={0.22} strokeWidth={1} />
        <path d={band(p.nrmsdLo, p.nrmsdHi, yR)} fill="#0000ff" fillOpacity={0.18} stroke="#0000ff" strokeOpacity={0.22} strokeWidth={1} />
        <path d={line(p.corr, yL)} fill="none" stroke="#ff0000" strokeWidth={1.8} />
        <path d={line(p.nrmsd, yR)} fill="none" stroke="#0000ff" strokeWidth={1.8} />
        {same ? (
          <line x1={x(p.peakCorr)} x2={x(p.peakCorr)} y1={t} y2={b} stroke="#5a2ad0" strokeWidth={2.4} strokeDasharray="7,4" />
        ) : (
          <>
            <line x1={x(p.peakNrmsd)} x2={x(p.peakNrmsd)} y1={t} y2={b} stroke="#3a5cff" strokeWidth={2.4} strokeDasharray="7,4" />
            <line x1={x(p.peakCorr)} x2={x(p.peakCorr)} y1={t} y2={b} stroke="#ff3a3a" strokeWidth={2.4} strokeDasharray="7,4" />
          </>
        )}
      </g>
      <rect x={l} y={t} width={r - l} height={b - t} fill="none" stroke={FRAME} strokeWidth={1.1} />
      {p.leftTicks.map((v: number) => (
        <text key={"tl" + v} x={l - 4} y={yL(v)} fontSize={11} textAnchor="end" dominantBaseline="central" fill="#ff2020">
          {fL(v)}
        </text>
      ))}
      {p.rightTicks.map((v: number) => (
        <text key={"tr" + v} x={r + 4} y={yR(v)} fontSize={11} textAnchor="start" dominantBaseline="central" fill="#2020ff">
          {fR(v)}
        </text>
      ))}
      {lagTicks.map((v) => (
        <text key={"tx" + v} x={x(v)} y={b + 14} fontSize={11} textAnchor="middle" fill="#111">{fX(v)}</text>
      ))}
      <text x={l + 7} y={t + 26} fontSize={19} fill="#333">{p.label}</text>
      <text transform={`translate(${l - 39},${(t + b) / 2}) rotate(-90)`} fontSize={10.5} textAnchor="middle" dominantBaseline="central" fill="#ff2020">
        Correlation Coefficient
      </text>
      <text transform={`translate(${r + p.rightLabelDx},${(t + b) / 2}) rotate(-90)`} fontSize={10.5} textAnchor="middle" dominantBaseline="central" fill="#2020ff">
        NRMSD
      </text>
      <text x={(l + r) / 2} y={b + 27} fontSize={10.8} textAnchor="middle" fill="#222">
        Time lag (h) : Positive means model delay
      </text>
    </g>
  );
}

export default function App() {
  const dirColor = "#5a2e20";
  return (
    <svg width={1262} height={1030} style={{ position: "absolute", left: 0, top: 0, background: "#fff" }}>
      <rect x={0} y={0} width={1262} height={1030} fill="#fff" />
      {/* row 1 */}
      <Scatter id="ca" box={[53, 13, 380, 229]} start={col1Start} hMax={136.7} ticks={col1Ticks} tickLabels={col1TickLabels}
        yDomain={[0.02, 0.14]} yTicks={yTicksA} yDigits={2} model={modelA} obs={obsA} label="(a)" ylabel="Peak frequency (Hz)" ylabelDx={38} />
      <Scatter id="cb" box={[467, 10, 795, 229]} start={col2Start} hMax={111.4} ticks={col2Ticks} tickLabels={col2TickLabels}
        yDomain={[0.03, 0.12]} yTicks={yTicksB} yDigits={2} model={modelB} obs={obsB} label="(b)" ylabel="Peak frequency (Hz)" ylabelDx={39} />
      <Scatter id="cc" box={[880, 11, 1207, 229]} start={col3Start} hMax={154.8} ticks={col3Ticks} tickLabels={col3TickLabels}
        yDomain={[0.04, 0.11]} yTicks={yTicksC} yDigits={2} model={modelC} obs={obsC} label="(c)" ylabel="Peak frequency (Hz)" ylabelDx={37} />
      {/* row 2 */}
      <Scatter id="cd" box={[53, 260, 380, 477]} start={col1Start} hMax={136.7} ticks={col1Ticks} tickLabels={col1TickLabels}
        yDomain={[0, 1.2]} yTicks={yTicksD} yDigits={1} model={modelD} obs={obsD} label="(d)" ylabel="SWH (m)" ylabelDx={31} />
      <Scatter id="ce" box={[467, 261, 795, 478]} start={col2Start} hMax={111.4} ticks={col2Ticks} tickLabels={col2TickLabels}
        yDomain={[0, 4]} yTicks={yTicksE} yDigits={1} model={modelE} obs={obsE} label="(e)" ylabel="SWH (m)" ylabelDx={30} />
      <Scatter id="cf" box={[880, 260, 1209, 477]} start={col3Start} hMax={155.8} ticks={col3Ticks} tickLabels={col3TickLabels}
        yDomain={[0, 3]} yTicks={yTicksF} yDigits={1} model={modelF} obs={obsF} label="(f)" ylabel="SWH (m)" ylabelDx={28} />
      {/* row 3 */}
      <Scatter id="cg" box={[53, 510, 380, 726]} start={col1Start} hMax={136.7} ticks={col1Ticks} tickLabels={col1TickLabels}
        yDomain={[250, 300]} yTicks={yTicksG} yDigits={0} model={modelG} obs={obsG} label="(g)" ylabel="Direction (°)" ylabelDx={35}
        ylabelColor={dirColor} xlabel="Time (year:2007)" />
      <Scatter id="ch" box={[467, 511, 795, 727]} start={col2Start} hMax={111.4} ticks={col2Ticks} tickLabels={col2TickLabelsH} firstTickStart
        yDomain={[260, 360]} yTicks={yTicksH} yDigits={0} model={modelH} obs={obsH} label="(h)" ylabel="Direction (°)" ylabelDx={30}
        ylabelColor={dirColor} xlabel="Time (year:2011)" />
      <Scatter id="ci" box={[880, 511, 1210, 727]} start={col3Start} hMax={156.2} ticks={col3Ticks} tickLabels={col3TickLabels}
        yDomain={[100, 240]} yTicks={yTicksI} yDigits={0} model={modelI} obs={obsI} label="(i)" ylabel="Direction (°)" ylabelDx={32}
        ylabelColor={dirColor} xlabel="Time (year:2008)" />
      {/* row 4 */}
      <LagPanel id="cj" box={[53, 779, 380, 995]} leftDomain={[-0.8, 1.0]} leftTicks={corrTicksJ} rightDomain={[0, 0.7]} rightTicks={nrmsdTicksJ} rightDigits={1}
        corr={corrJ} corrHi={corrJHi} corrLo={corrJLo} nrmsd={nrmsdJ} nrmsdHi={nrmsdJHi} nrmsdLo={nrmsdJLo}
        peakCorr={peakLagCorr[0]} peakNrmsd={peakLagNrmsd[0]} label="(j)" rightLabelDx={32} />
      <LagPanel id="ck" box={[468, 779, 796, 995]} leftDomain={[-0.4, 1.0]} leftTicks={corrTicksKL} rightDomain={[0.1, 1.0]} rightTicks={nrmsdTicksK} rightDigits={1}
        corr={corrK} corrHi={corrKHi} corrLo={corrKLo} nrmsd={nrmsdK} nrmsdHi={nrmsdKHi} nrmsdLo={nrmsdKLo}
        peakCorr={peakLagCorr[1]} peakNrmsd={peakLagNrmsd[1]} label="(k)" rightLabelDx={28} />
      <LagPanel id="cl" box={[882, 779, 1209, 995]} leftDomain={[-0.4, 1.0]} leftTicks={corrTicksKL} rightDomain={[0.1, 0.45]} rightTicks={nrmsdTicksL} rightDigits={2}
        corr={corrL} corrHi={corrLHi} corrLo={corrLLo} nrmsd={nrmsdL} nrmsdHi={nrmsdLHi} nrmsdLo={nrmsdLLo}
        peakCorr={peakLagCorr[2]} peakNrmsd={peakLagNrmsd[2]} label="(l)" rightLabelDx={35} />
    </svg>
  );
}
